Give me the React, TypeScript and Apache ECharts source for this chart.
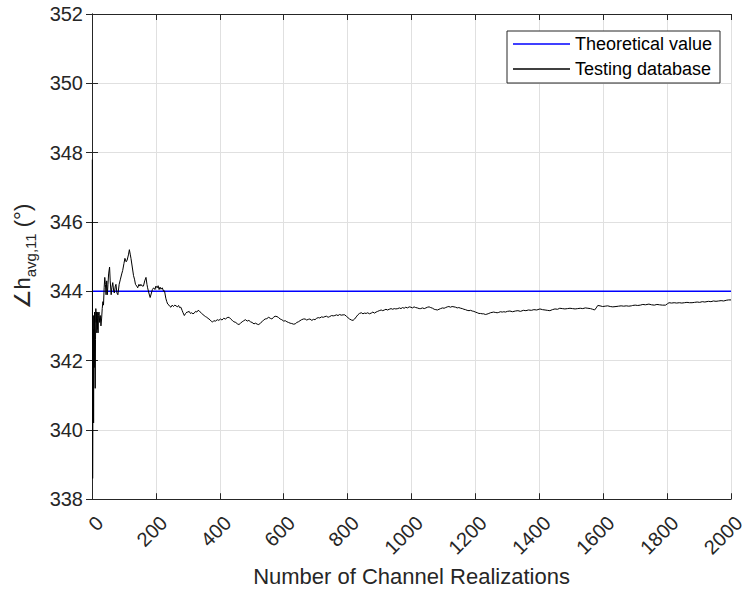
import React, { useEffect, useRef } from "react";
import * as echarts from "echarts";

const xTicks = [0, 200, 400, 600, 800, 1000, 1200, 1400, 1600, 1800, 2000];
const yTicks = [338, 340, 342, 344, 346, 348, 350, 352];
const theoreticalValue = 344;
const seriesNames = ["Theoretical value", "Testing database"];

// [number of channel realizations, angle in degrees]
const testingDatabase: [number, number][] = [
  [1, 347.8], [2, 338.6], [3, 341.5], [4, 343.3], [5, 340.2], [6, 342.9], [7, 341.8], [8, 343.4], [9, 342.2], [10, 341.2],
  [11, 342.6], [12, 343.5], [13, 343.1], [14, 343.4], [15, 342.8], [16, 343.2], [17, 342.9], [18, 343.4], [19, 342.8], [20, 343.3],
  [22, 343.4], [24, 343.1], [26, 343.3], [28, 343.0], [30, 343.2], [32, 343.5], [34, 343.7], [36, 343.6], [38, 344.1], [40, 344.4],
  [42, 344.2], [44, 343.9], [46, 344.3], [48, 343.9], [50, 344.2], [52, 344.5], [55, 344.7], [57, 344.3], [60, 343.9], [62, 344.1],
  [65, 344.25], [68, 344.0], [70, 343.95], [73, 344.15], [75, 344.2], [78, 343.95], [81, 343.9], [85, 344.2], [89, 344.35], [93, 344.5],
  [96, 344.6], [100, 344.8], [103, 344.95], [107, 344.85], [110, 344.9], [114, 345.05], [117, 345.2], [120, 345.05], [122, 344.95], [126, 344.7],
  [130, 344.45], [133, 344.35], [136, 344.2], [140, 344.15], [143, 344.1], [147, 344.2], [150, 344.15], [153, 344.2], [157, 344.15], [161, 344.15],
  [165, 344.3], [169, 344.4], [172, 344.2], [174, 344.1], [178, 343.95], [182, 343.82], [186, 343.95], [189, 344.05], [193, 344.1], [197, 344.05],
  [200, 344.15], [204, 344.1], [207, 344.16], [210, 344.05], [213, 344.12], [216, 344.06], [220, 344.1], [224, 344.0], [227, 344.01], [231, 343.8],
  [234, 343.7], [237, 343.63], [241, 343.6], [244, 343.56], [247, 343.54], [251, 343.6], [255, 343.56], [259, 343.6], [263, 343.58], [267, 343.55],
  [271, 343.59], [274, 343.53], [278, 343.54], [282, 343.45], [285, 343.38], [289, 343.3], [293, 343.36], [297, 343.4], [300, 343.4], [304, 343.42],
  [308, 343.36], [312, 343.38], [316, 343.35], [320, 343.37], [324, 343.42], [328, 343.4], [332, 343.45], [335, 343.44], [339, 343.4], [343, 343.36],
  [347, 343.33], [351, 343.3], [355, 343.27], [359, 343.25], [363, 343.22], [366, 343.2], [370, 343.17], [374, 343.13], [377, 343.11], [381, 343.15],
  [387, 343.14], [392, 343.18], [397, 343.16], [402, 343.2], [407, 343.17], [412, 343.22], [418, 343.2], [423, 343.24], [429, 343.25], [434, 343.2],
  [439, 343.16], [444, 343.12], [450, 343.1], [455, 343.06], [460, 343.04], [465, 343.08], [470, 343.12], [475, 343.15], [480, 343.18], [486, 343.14],
  [491, 343.16], [496, 343.12], [501, 343.1], [507, 343.06], [512, 343.08], [517, 343.05], [522, 343.04], [527, 343.08], [532, 343.12], [537, 343.17],
  [542, 343.2], [547, 343.21], [553, 343.25], [558, 343.22], [563, 343.2], [568, 343.25], [573, 343.28], [579, 343.27], [584, 343.24], [589, 343.2],
  [594, 343.18], [600, 343.14], [605, 343.15], [610, 343.12], [615, 343.1], [620, 343.08], [625, 343.07], [631, 343.05], [636, 343.06], [641, 343.1],
  [646, 343.12], [651, 343.15], [656, 343.18], [662, 343.2], [667, 343.2], [672, 343.17], [677, 343.19], [682, 343.2], [688, 343.16], [693, 343.19],
  [698, 343.18], [703, 343.22], [708, 343.24], [713, 343.23], [718, 343.26], [724, 343.25], [729, 343.27], [734, 343.28], [739, 343.25], [744, 343.27],
  [750, 343.3], [755, 343.29], [760, 343.3], [765, 343.32], [770, 343.3], [775, 343.33], [780, 343.31], [786, 343.32], [791, 343.32], [796, 343.28],
  [801, 343.24], [806, 343.2], [812, 343.17], [817, 343.16], [822, 343.2], [827, 343.26], [832, 343.32], [837, 343.36], [843, 343.38], [848, 343.35],
  [853, 343.37], [858, 343.36], [863, 343.38], [868, 343.35], [874, 343.37], [879, 343.4], [884, 343.37], [889, 343.4], [894, 343.42], [899, 343.44],
  [905, 343.46], [910, 343.44], [915, 343.46], [920, 343.48], [925, 343.46], [930, 343.48], [936, 343.5], [941, 343.48], [946, 343.5], [951, 343.49],
  [957, 343.5], [962, 343.52], [967, 343.5], [972, 343.53], [977, 343.51], [982, 343.54], [987, 343.52], [993, 343.55], [998, 343.54], [1003, 343.52],
  [1008, 343.55], [1013, 343.53], [1018, 343.52], [1024, 343.5], [1029, 343.5], [1034, 343.52], [1040, 343.5], [1045, 343.52], [1050, 343.54], [1055, 343.55],
  [1060, 343.53], [1066, 343.51], [1071, 343.48], [1076, 343.47], [1081, 343.46], [1086, 343.48], [1091, 343.5], [1097, 343.52], [1102, 343.51], [1107, 343.53],
  [1112, 343.55], [1117, 343.56], [1122, 343.54], [1127, 343.56], [1133, 343.55], [1138, 343.54], [1143, 343.52], [1148, 343.53], [1154, 343.51], [1159, 343.5],
  [1164, 343.48], [1169, 343.47], [1174, 343.45], [1180, 343.44], [1185, 343.45], [1190, 343.43], [1195, 343.42], [1200, 343.4], [1206, 343.38], [1211, 343.36],
  [1216, 343.36], [1221, 343.35], [1226, 343.35], [1231, 343.33], [1236, 343.34], [1242, 343.36], [1247, 343.38], [1252, 343.39], [1257, 343.4], [1262, 343.39],
  [1268, 343.38], [1273, 343.39], [1278, 343.41], [1284, 343.4], [1289, 343.41], [1294, 343.4], [1300, 343.42], [1308, 343.43], [1316, 343.41], [1325, 343.43],
  [1333, 343.44], [1341, 343.42], [1350, 343.45], [1358, 343.44], [1366, 343.46], [1375, 343.45], [1383, 343.47], [1392, 343.46], [1402, 343.49], [1410, 343.47],
  [1418, 343.46], [1425, 343.45], [1433, 343.44], [1441, 343.47], [1449, 343.49], [1457, 343.48], [1464, 343.51], [1472, 343.5], [1480, 343.49], [1488, 343.5],
  [1496, 343.51], [1504, 343.5], [1512, 343.49], [1520, 343.5], [1528, 343.51], [1536, 343.5], [1544, 343.52], [1552, 343.51], [1560, 343.5], [1567, 343.48],
  [1573, 343.46], [1578, 343.52], [1583, 343.59], [1590, 343.58], [1598, 343.56], [1606, 343.57], [1614, 343.58], [1622, 343.56], [1630, 343.55], [1640, 343.56],
  [1648, 343.57], [1656, 343.58], [1664, 343.57], [1672, 343.58], [1680, 343.57], [1688, 343.58], [1692, 343.59], [1700, 343.6], [1708, 343.59], [1716, 343.6],
  [1724, 343.62], [1732, 343.61], [1743, 343.63], [1751, 343.61], [1760, 343.6], [1768, 343.62], [1776, 343.61], [1785, 343.6], [1795, 343.6], [1801, 343.64],
  [1806, 343.67], [1814, 343.66], [1822, 343.67], [1830, 343.66], [1838, 343.67], [1846, 343.66], [1854, 343.67], [1862, 343.68], [1870, 343.67], [1878, 343.67],
  [1886, 343.68], [1894, 343.69], [1902, 343.68], [1910, 343.7], [1918, 343.69], [1929, 343.71], [1937, 343.7], [1945, 343.72], [1953, 343.71], [1961, 343.72],
  [1969, 343.73], [1977, 343.72], [1985, 343.74], [1992, 343.75], [2000, 343.75],
];

const FONT = "'Liberation Sans', Arial, Helvetica, sans-serif";
const INK = "#262626";

export default function App() {
  const ref = useRef<HTMLDivElement>(null);

  useEffect(() => {
    document.body.style.margin = "0";
    if (!ref.current) return;
    const chart = echarts.init(ref.current, undefined, { renderer: "svg" });
    const xMin = xTicks[0];
    const xMax = xTicks[xTicks.length - 1];
    const xInt = xTicks[1] - xTicks[0];
    const yMin = yTicks[0];
    const yMax = yTicks[yTicks.length - 1];
    const yInt = yTicks[1] - yTicks[0];

    const tickStyle = { show: true, inside: true, length: 6, lineStyle: { color: INK, width: 1 } };
    const lineStyle = { show: true, lineStyle: { color: INK, width: 1 } };

    chart.setOption({
      animation: false,
      backgroundColor: "#ffffff",
      grid: { left: 92, right: 12, top: 14, bottom: 88, containLabel: false },
      xAxis: [
        {
          type: "value",
          min: xMin,
          max: xMax,
          interval: xInt,
          position: "bottom",
          axisLine: lineStyle,
          axisTick: tickStyle,
          splitLine: { show: true, lineStyle: { color: "#e0e0e0", width: 1 } },
          axisLabel: {
            rotate: 45,
            margin: 28,
            padding: [0, -11, 0, 0],
            fontSize: 20,
            fontFamily: FONT,
            color: INK,
            showMinLabel: true,
            showMaxLabel: true,
            formatter: (v: number) => String(v),
          },
          name: "Number of Channel Realizations",
          nameLocation: "middle",
          nameGap: 62,
          nameTextStyle: { fontSize: 22, fontFamily: FONT, color: INK },
        },
        {
          type: "value",
          min: xMin,
          max: xMax,
          interval: xInt,
          position: "top",
          axisLine: lineStyle,
          axisTick: tickStyle,
          splitLine: { show: false },
          axisLabel: { show: false },
        },
      ],
      yAxis: [
        {
          type: "value",
          min: yMin,
          max: yMax,
          interval: yInt,
          position: "left",
          axisLine: lineStyle,
          axisTick: tickStyle,
          splitLine: { show: true, lineStyle: { color: "#e0e0e0", width: 1 } },
          axisLabel: { margin: 9, fontSize: 20, fontFamily: FONT, color: INK, formatter: (v: number) => String(v) },
          name: "{a|∠h}{b|avg,11}{a| (°)}",
          nameLocation: "middle",
          nameRotate: 90,
          nameGap: 54,
          nameTextStyle: {
            rich: {
              a: { fontSize: 22, fontFamily: FONT, color: INK, lineHeight: 32, verticalAlign: "middle" },
              b: { fontSize: 15, fontFamily: FONT, color: INK, lineHeight: 15, verticalAlign: "bottom" },
            },
          },
        },
        {
          type: "value",
          min: yMin,
          max: yMax,
          interval: yInt,
          position: "right",
          axisLine: lineStyle,
          axisTick: tickStyle,
          splitLine: { show: false },
          axisLabel: { show: false },
        },
      ],
      graphic: [
        {
          type: "rect",
          z: 10,
          shape: { x: 507, y: 31, width: 213, height: 52 },
          style: { fill: "#ffffff", stroke: INK, lineWidth: 1 },
        },
      ],
      legend: {
        z: 20,
        orient: "vertical",
        left: 513,
        top: 35,
        icon: "rect",
        itemWidth: 57,
        itemHeight: 1.3,
        itemGap: 7,
        padding: 0,
        textStyle: { fontSize: 18, lineHeight: 18, fontFamily: FONT, color: "#000000" },
        data: seriesNames,
      },
      series: [
        {
          name: seriesNames[0],
          type: "line",
          symbol: "none",
          z: 3,
          lineStyle: { color: "#0000ff", width: 1.3 },
          itemStyle: { color: "#0000ff" },
          data: [
            [xMin, theoreticalValue],
            [xMax, theoreticalValue],
          ],
        },
        {
          name: seriesNames[1],
          type: "line",
          symbol: "none",
          z: 4,
          lineStyle: { color: "#000000", width: 1 },
          itemStyle: { color: "#000000" },
          data: testingDatabase,
        },
      ],
    });
    return () => chart.dispose();
  }, []);

  return <div ref={ref} style={{ width: 748, height: 592 }} />;
}
